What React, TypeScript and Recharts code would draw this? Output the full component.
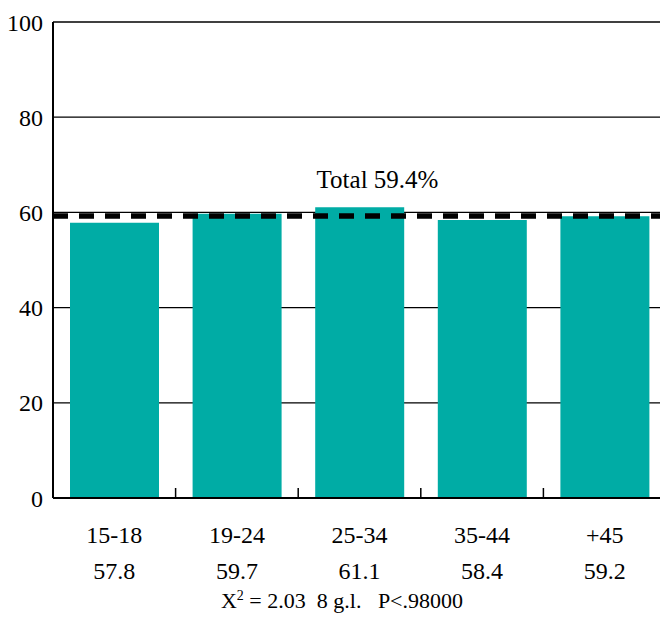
import { BarChart, Bar, XAxis, YAxis, CartesianGrid, ReferenceLine } from 'recharts';

const ageGroups = ['15-18', '19-24', '25-34', '35-44', '+45'];
const percentages = [57.8, 59.7, 61.1, 58.4, 59.2];
const totalPct = 59.4;
const yTicks = [0, 20, 40, 60, 80, 100];

const data = ageGroups.map((age, i) => ({ age, value: percentages[i] }));

const SERIF = '"Liberation Serif", "Times New Roman", Times, serif';
const CHART_W = 666;
const CHART_H = 622;
const Y_AXIS_W = 53;
const X_AXIS_H = 124;
const BAND = (CHART_W - Y_AXIS_W) / ageGroups.length;

// two-line category label (age group + its percentage) and the small tick
// marks standing up from the axis between categories
const AgeTick = (props: any) => {
  const { x, y, payload, index } = props;
  const value = percentages[index];
  return (
    <g>
      {index > 0 && (
        <line x1={x - BAND / 2} x2={x - BAND / 2} y1={y} y2={y - 10} stroke="#000" strokeWidth={1.5} />
      )}
      <text x={x} y={y + 45} textAnchor="middle" fontFamily={SERIF} fontSize={24} fill="#000">
        {payload.value}
      </text>
      <text x={x} y={y + 81} textAnchor="middle" fontFamily={SERIF} fontSize={24} fill="#000">
        {value.toFixed(1)}
      </text>
    </g>
  );
};

const App = () => {
  return (
    <div style={{ position: 'absolute', left: 0, top: 0, width: 660, height: 622, overflow: 'hidden', background: '#fff' }}>
      <BarChart
        width={CHART_W}
        height={CHART_H}
        data={data}
        margin={{ top: 22, right: 0, bottom: 0, left: 0 }}
        barSize={89}
      >
        <CartesianGrid vertical={false} stroke="#000" strokeWidth={1.3} />
        <XAxis
          dataKey="age"
          height={X_AXIS_H}
          tickLine={false}
          tickSize={0}
          tickMargin={0}
          axisLine={{ stroke: '#000', strokeWidth: 2 }}
          tick={<AgeTick />}
          interval={0}
        />
        <YAxis
          width={Y_AXIS_W}
          domain={[0, 100]}
          ticks={yTicks}
          tickLine={false}
          tickSize={0}
          tickMargin={10}
          axisLine={{ stroke: '#000', strokeWidth: 2 }}
          tick={{ fontSize: 24, fill: '#000', fontFamily: SERIF }}
        />
        <Bar dataKey="value" fill="#00ACA5" isAnimationActive={false} />
        <ReferenceLine
          y={totalPct}
          stroke="#000"
          strokeWidth={5.5}
          strokeDasharray="15 11"
          transform="translate(0, 0.8)"
          label={{
            value: `Total ${totalPct}%`,
            position: 'top',
            offset: 27,
            dx: 18,
            fontSize: 25,
            fill: '#000',
            fontFamily: SERIF,
          }}
        />
      </BarChart>
      <div
        style={{
          position: 'absolute',
          left: 0,
          width: 684,
          top: 589,
          textAlign: 'center',
          fontFamily: SERIF,
          fontSize: 22,
          color: '#000',
          whiteSpace: 'pre',
          lineHeight: '24px',
        }}
      >
        X<sup style={{ fontSize: 14, lineHeight: 0 }}>2</sup>
        {' = 2.03  8 g.l.   P<.98000'}
      </div>
    </div>
  );
};

export default App;
